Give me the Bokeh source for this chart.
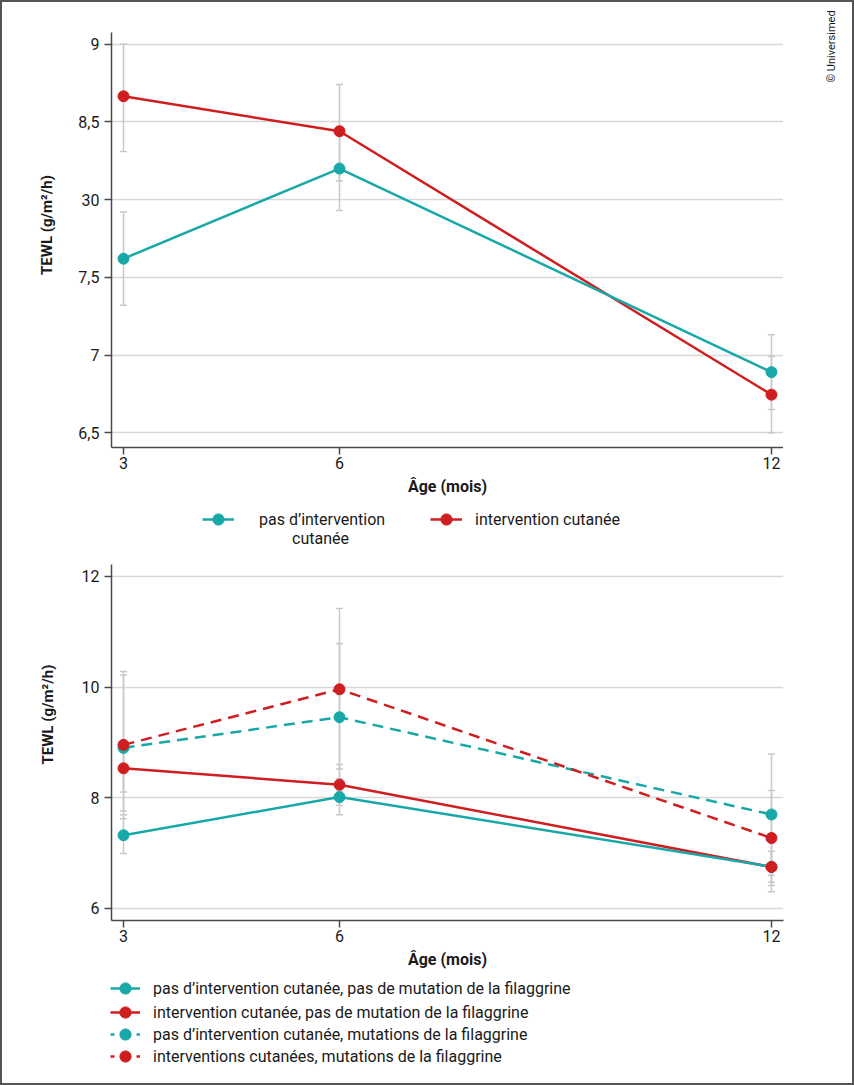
import math
import numpy as np
from bokeh.plotting import figure
from bokeh.models import (Range1d, FixedTicker, Whisker, TeeHead, ColumnDataSource,
                          Legend, LegendItem, Label)
from bokeh.layouts import column, row
from bokeh.embed import file_html
from bokeh.resources import INLINE

# ---------------- data ----------------
months = [3, 6, 12]

# top chart
top_no_int = [7.62, 8.20, 6.89]
top_no_int_lo = [7.32, 7.93, 6.65]
top_no_int_hi = [7.92, 8.47, 7.13]
top_int = [8.665, 8.44, 6.745]
top_int_lo = [8.31, 8.12, 6.50]
top_int_hi = [9.00, 8.74, 6.99]
top_ticks = [6.5, 7, 7.5, 8, 8.5, 9]
top_tick_labels = ["6,5", "7", "7,5", "30", "8,5", "9"]

# bottom chart
bot_noint_nomut = [7.32, 8.01, 6.75]
bot_noint_nomut_lo = [6.99, 7.69, 6.30]
bot_noint_nomut_hi = [7.69, 8.34, 7.19]
bot_int_nomut = [8.53, 8.235, 6.745]
bot_int_nomut_lo = [8.10, 7.86, 6.47]
bot_int_nomut_hi = [8.96, 8.60, 7.03]
bot_noint_mut = [8.90, 9.455, 7.695]
bot_noint_mut_lo = [7.76, 8.12, 6.59]
bot_noint_mut_hi = [10.22, 10.79, 8.79]
bot_int_mut = [8.955, 9.96, 7.27]
bot_int_mut_lo = [7.62, 8.52, 6.41]
bot_int_mut_hi = [10.28, 11.42, 8.13]
bot_ticks = [6, 8, 10, 12]
bot_tick_labels = ["6", "8", "10", "12"]

top_labels = ["pas d\u2019intervention", "cutanée", "intervention cutanée"]
bot_labels = [
    "pas d\u2019intervention cutanée, pas de mutation de la filaggrine",
    "intervention cutanée, pas de mutation de la filaggrine",
    "pas d\u2019intervention cutanée, mutations de la filaggrine",
    "interventions cutanées, mutations de la filaggrine",
]
x_title = "Âge (mois)"
y_title = "TEWL (g/m²/h)"
copyright_text = "© Universimed"

# ---------------- style ----------------
TEAL = "#19a8a8"
RED = "#cf1e20"
GREY = "#c9c9c9"
AXIS = "#4a4a4a"
TXT = "#1a1a1a"
FONT = "Roboto"
DASH = "11 7"
LEGEND_DASH = "4 22"
LEG_FS = "16px"


def make_fig(ymin, ymax, frame_h, b_top, b_bottom, b_right, ticks, tick_labels,
             ylab_standoff, ylab_text, ybounds):
    p = figure(frame_width=672, frame_height=frame_h,
               min_border_left=109, min_border_right=b_right,
               min_border_top=b_top, min_border_bottom=b_bottom,
               x_range=Range1d(2.833, 12.167), y_range=Range1d(ymin, ymax),
               output_backend="svg", toolbar_location=None, tools="")
    p.outline_line_color = None
    p.background_fill_color = "white"
    p.border_fill_color = "white"
    p.xgrid.grid_line_color = None
    p.ygrid.grid_line_color = "#d8d8d8"
    p.ygrid.grid_line_width = 1.5
    p.ygrid.ticker = FixedTicker(ticks=ticks)

    p.xaxis.ticker = FixedTicker(ticks=months)
    p.xaxis.axis_label = x_title
    p.xaxis.axis_label_standoff = 5
    p.xaxis.major_label_standoff = 2
    p.xaxis.axis_label_text_font_size = "16px"

    p.yaxis.ticker = FixedTicker(ticks=ticks)
    p.yaxis.major_label_overrides = {t: l for t, l in zip(ticks, tick_labels)}
    p.yaxis.major_label_standoff = 5
    p.yaxis.axis_label = ylab_text
    p.yaxis.axis_label_standoff = ylab_standoff
    p.yaxis.axis_label_text_font_size = "15px"
    p.yaxis.bounds = ybounds

    for ax in (p.xaxis, p.yaxis):
        ax.axis_line_color = AXIS
        ax.axis_line_width = 1.5
        ax.major_tick_line_color = AXIS
        ax.major_tick_line_width = 1.5
        ax.major_tick_out = 7
        ax.major_tick_in = 0
        ax.minor_tick_line_color = None
        ax.major_label_text_font = FONT
        ax.major_label_text_font_size = "16px"
        ax.major_label_text_color = TXT
        ax.axis_label_text_font = FONT
        ax.axis_label_text_font_style = "bold"
        ax.axis_label_text_color = TXT
    return p


def blank_fig(w, h):
    p = figure(frame_width=w, frame_height=h, min_border=0,
               x_range=Range1d(0, w), y_range=Range1d(0, h),
               x_axis_type=None, y_axis_type=None,
               output_backend="svg", toolbar_location=None, tools="")
    p.outline_line_color = None
    p.grid.visible = False
    p.background_fill_color = "white"
    p.border_fill_color = "white"
    return p


def add_err(p, lo, hi):
    src = ColumnDataSource(dict(x=months, lo=lo, hi=hi))
    w = Whisker(source=src, base="x", lower="lo", upper="hi", dimension="height",
                line_color=GREY, line_width=1.5, level="underlay",
                upper_head=TeeHead(size=7, line_color=GREY, line_width=1.5),
                lower_head=TeeHead(size=7, line_color=GREY, line_width=1.5))
    p.add_layout(w)


def legend_sample(p, color, dash="solid"):
    # legend-only sample renderers: a single NaN placeholder, nothing is drawn
    nan = np.array([np.nan])
    ln = p.line(x=nan, y=nan, line_color=color, line_width=2.5, line_dash=dash)
    mk = p.scatter(x=nan, y=nan, marker="circle", size=11, fill_color=color, line_color=color)
    return [ln, mk]


def add_legend(p, renderers, label, vx, vy, gw, standoff):
    lg = Legend(items=[LegendItem(label=label, renderers=renderers)],
                location=(vx, vy), orientation="vertical",
                padding=0, margin=0, spacing=0,
                glyph_width=gw, glyph_height=28, label_standoff=standoff,
                border_line_color=None, background_fill_alpha=0,
                label_text_font=FONT, label_text_font_size=LEG_FS,
                label_text_color=TXT)
    p.add_layout(lg, "center")


# ---------------- top chart ----------------
# frame reaches the top edge (room for the copyright strip); axis line bounded
p1 = make_fig(6.405, 9.2684, 445, 0, 60, 0, top_ticks, top_tick_labels, 19, y_title,
              (6.405, 9.0753))
add_err(p1, top_no_int_lo, top_no_int_hi)
add_err(p1, top_int_lo, top_int_hi)
p1.line(months, top_int, line_color=RED, line_width=2.5)
p1.line(months, top_no_int, line_color=TEAL, line_width=2.5)
p1.scatter(months, top_int, marker="circle", size=11, fill_color=RED, line_color=RED)
p1.scatter(months, top_no_int, marker="circle", size=11, fill_color=TEAL, line_color=TEAL)

# copyright strip (right of the top chart)
pc = blank_fig(69, 505)
pc.add_layout(Label(x=48, y=425, x_units="screen", y_units="screen",
                    text=copyright_text, angle=math.pi / 2,
                    text_align="left", text_baseline="middle", text_font=FONT,
                    text_font_size="11px", text_color=TXT))

# top legend strip
pl1 = blank_fig(850, 48)
add_legend(pl1, legend_sample(pl1, TEAL), top_labels[0], 200, 22, 32, 25)
add_legend(pl1, legend_sample(pl1, RED), top_labels[2], 428, 22, 32, 13)
pl1.add_layout(Label(x=209, y=17, x_units="screen", y_units="screen",
                     text=top_labels[1], text_align="center",
                     text_baseline="middle", text_font=FONT, text_font_size=LEG_FS,
                     text_color=TXT))

# ---------------- bottom chart ----------------
p2 = make_fig(5.778, 12.217, 356, 9, 60, 69, bot_ticks, bot_tick_labels, 22,
              "\u00a0" * 15 + y_title, (5.778, 12.217))
add_err(p2, bot_noint_nomut_lo, bot_noint_nomut_hi)
add_err(p2, bot_int_nomut_lo, bot_int_nomut_hi)
add_err(p2, bot_noint_mut_lo, bot_noint_mut_hi)
add_err(p2, bot_int_mut_lo, bot_int_mut_hi)

p2.line(months, bot_int_nomut, line_color=RED, line_width=2.5)
p2.line(months, bot_noint_nomut, line_color=TEAL, line_width=2.5)
p2.line(months, bot_noint_mut, line_color=TEAL, line_width=2.5, line_dash=DASH)
p2.line(months, bot_int_mut, line_color=RED, line_width=2.5, line_dash=DASH)
p2.scatter(months, bot_noint_nomut, marker="circle", size=11, fill_color=TEAL, line_color=TEAL)
p2.scatter(months, bot_int_nomut, marker="circle", size=11, fill_color=RED, line_color=RED)
p2.scatter(months, bot_noint_mut, marker="circle", size=11, fill_color=TEAL, line_color=TEAL)
p2.scatter(months, bot_int_mut, marker="circle", size=11, fill_color=RED, line_color=RED)

# bottom legend strip
pl2 = blank_fig(850, 103)
styles = [(TEAL, "solid"), (RED, "solid"), (TEAL, LEGEND_DASH), (RED, LEGEND_DASH)]
rows_vy = [81, 57, 35, 13]
for (c, d), lab, vy in zip(styles, bot_labels, rows_vy):
    add_legend(pl2, legend_sample(pl2, c, d), lab, 108, vy, 30, 13)

layout = column(row(p1, pc), pl1, p2, pl2,
                styles={"border": "2px solid #555555", "box-sizing": "content-box"})

open("out.html", "w").write(file_html(layout, INLINE))
